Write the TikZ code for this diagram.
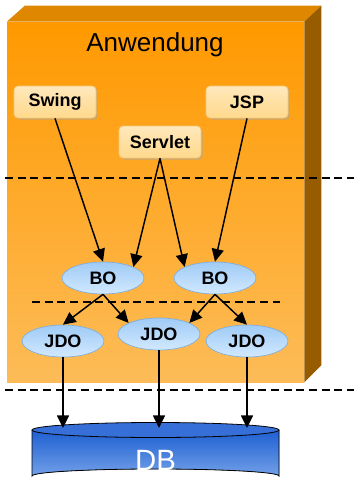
\documentclass[tikz,border=0pt]{standalone}
\usepackage{fontspec}
\setmainfont{Liberation Sans}
\usetikzlibrary{positioning, arrows.meta, calc, shapes.geometric, shadows}
\definecolor{appTop}{HTML}{FF9900}
\definecolor{appBot}{HTML}{FDBC58}
\definecolor{appRoof}{HTML}{DF8700}
\definecolor{appSide}{HTML}{985C00}
\definecolor{boxTop}{HTML}{FFE8BC}
\definecolor{boxBot}{HTML}{FFD98C}
\definecolor{boxLine}{HTML}{F2C878}
\definecolor{boTop}{HTML}{9FCBF6}
\definecolor{boBot}{HTML}{D2E9FF}
\definecolor{boLine}{HTML}{7FAEDC}
\definecolor{dbTop}{HTML}{1E5FD2}
\definecolor{dbBot}{HTML}{72A0E8}
\newcommand{\labelfont}{\bfseries\fontsize{13.5pt}{16pt}\selectfont}

\begin{document}
\begin{tikzpicture}[x=0.75pt, y=-0.75pt,
    >={Triangle[length=9.5pt, width=9pt]}, % gefuellte Pfeilspitzen
    appface/.style={rectangle, minimum width=222.75pt, minimum height=270pt, inner sep=0pt,
        top color=appTop, bottom color=appBot, draw=none},
    layer/.style={rounded corners=3pt, minimum width=61.5pt, minimum height=24pt, inner sep=1pt,
        top color=boxTop, bottom color=boxBot, draw=boxLine, line width=0.6pt,
        font=\labelfont,
        drop shadow={shadow xshift=1.2pt, shadow yshift=-1.2pt, fill=black!35, opacity=0.6}},
    bo/.style={ellipse, minimum width=61.5pt, minimum height=24pt, inner sep=0pt,
        top color=boTop, bottom color=boBot, draw=boLine, line width=0.5pt,
        font=\labelfont},
    flow/.style={->, line width=1.1pt},
    sep/.style={line width=1.1pt, dash pattern=on 6pt off 3.5pt}
]
\useasboundingbox (0,0) rectangle (354,483);

% 1. Anwendungs-Block (Quader)
\node[appface] (anw) at (155.5,202) {};
\fill[appRoof] (anw.north west) -- ++(18,-16) -- ($(anw.north east)+(17,-16)$) -- (anw.north east) -- cycle;
\fill[appSide] (anw.north east) -- ++(17,-16) -- ($(anw.south east)+(17,-17)$) -- (anw.south east) -- cycle;
\node[font=\fontsize{19.5pt}{22pt}\selectfont] (title) at (155,45) {Anwendung};

% 2. Trennlinien
\draw[sep] (5,178) -- (354,178);
\draw[sep] (32,302) -- (280,302);
\draw[sep] (5,390) -- (354,390);

% 3. Praesentationsschicht
\node[layer] (swing) at (55,102) {Swing};
\node[layer] (jsp) at (247,102) {JSP};
\node[layer] (servlet) at (160,142) {Servlet};

% 4. Business Objects
\node[bo] (bo1) at (103,278) {BO};
\node[bo] (bo2) at (215,278) {BO};

% 5. Data Objects
\node[bo] (jdo1) at (63,341) {JDO};
\node[bo] (jdo2) at (159,334) {JDO};
\node[bo] (jdo3) at (247,341) {JDO};

% 6. Datenbank (Zylinder)
\coordinate (dbl) at (32,430);
\coordinate (dbr) at (279,430);
\fill[top color=dbTop, bottom color=dbBot]
    (dbl) -- ($(dbl)+(0,46)$) arc[start angle=180, end angle=360, x radius=123.5, y radius=7]
    -- (dbr) arc[start angle=0, end angle=180, x radius=123.5, y radius=7.5] -- cycle;
\draw[line width=0.6pt] (dbl) -- ($(dbl)+(0,46)$) arc[start angle=180, end angle=360, x radius=123.5, y radius=7] -- (dbr);
\draw[line width=0.6pt, fill=dbTop!90!white] ($(dbl)!0.5!(dbr)$) ellipse[x radius=123.5, y radius=7.5];
\node[font=\fontsize{22pt}{24pt}\selectfont, text=white] (db) at (155.5,460) {DB};
\coordinate (dbtop) at (155.5,428);

% 7. Verbindungen
\draw[flow] (swing.south) -- (bo1.north);
\draw[flow] (servlet.south) -- (bo1.20);
\draw[flow] (servlet.south) -- (bo2.160);
\draw[flow] (jsp.south) -- (bo2.north);
\draw[flow] (bo1.south) -- (jdo1.north);
\draw[flow] (bo1.south) -- (jdo2.160);
\draw[flow] (bo2.south) -- (jdo2.20);
\draw[flow] (bo2.south) -- (jdo3.north);
\draw[flow] (jdo1.south) -- (jdo1.south |- dbtop);
\draw[flow] (jdo2.south) -- (jdo2.south |- dbtop);
\draw[flow] (jdo3.south) -- (jdo3.south |- dbtop);

\end{tikzpicture}
\end{document}
